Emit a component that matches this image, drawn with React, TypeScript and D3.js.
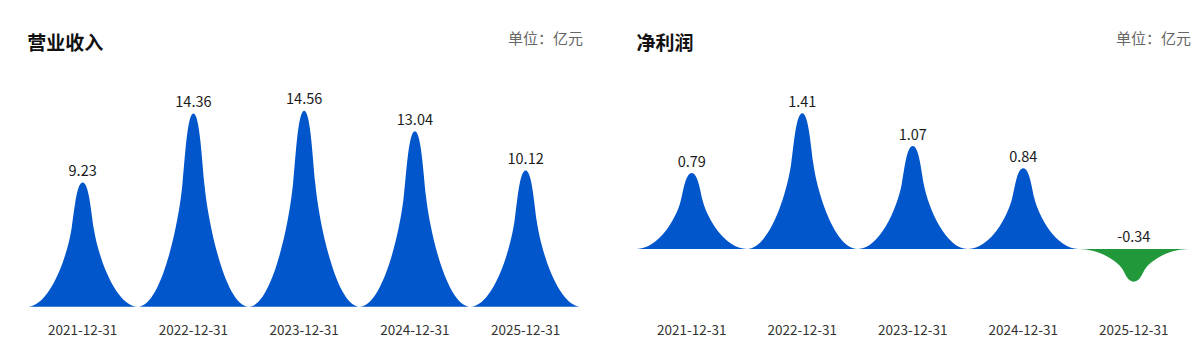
import React from "react";
import * as d3 from "d3";

const dates = ["2021-12-31", "2022-12-31", "2023-12-31", "2024-12-31", "2025-12-31"];
const revenue = [9.23, 14.36, 14.56, 13.04, 10.12];
const netProfit = [0.79, 1.41, 1.07, 0.84, -0.34];

const BLUE = "#0256cc";
const GREEN = "#21993a";
const FONT = "'Noto Sans CJK SC', 'Noto Sans', sans-serif";

// normalized spike symbol (0..10 wide, 0 = tip, 10 = base)
const SYMBOL: [number, number][][] = [
  [[2.0, 10], [3.6, 6.0], [4.0, 3.7]],
  [[4.24, 2.32], [4.45, 0], [5, 0]],
  [[5.55, 0], [5.76, 2.32], [6.0, 3.7]],
  [[6.4, 6.0], [8.0, 10], [10, 10]],
];

function spikePath(x0: number, w: number, yBase: number, yTip: number) {
  const px = (u: number) => x0 + (u / 10) * w;
  const py = (v: number) => yBase + (yTip - yBase) * (10 - v) / 10;
  const p = d3.path();
  p.moveTo(px(0), py(10));
  for (const seg of SYMBOL) {
    p.bezierCurveTo(px(seg[0][0]), py(seg[0][1]), px(seg[1][0]), py(seg[1][1]), px(seg[2][0]), py(seg[2][1]));
  }
  p.closePath();
  return p.toString();
}

type PanelProps = {
  title: string;
  values: number[];
  xRange: [number, number];
  yDomain: [number, number];
  yRange: [number, number];
};

function Panel({ title, values, xRange, yDomain, yRange }: PanelProps) {
  const x = d3.scaleBand<string>().domain(dates).range(xRange).padding(0);
  const y = d3.scaleLinear().domain(yDomain).range(yRange);
  const y0 = y(0);
  return (
    <g>
      <text x={xRange[0]} y={41} fontSize={19} fontWeight={700} fill="#111" dominantBaseline="central" fontFamily={FONT}>
        {title}
      </text>
      <text x={xRange[1] + 2} y={37} fontSize={15} fill="#666" textAnchor="end" dominantBaseline="central" fontFamily={FONT}>
        单位：亿元
      </text>
      {values.map((v, i) => (
        <path key={i} d={spikePath(x(dates[i])!, x.bandwidth(), y0, y(v))} fill={v >= 0 ? BLUE : GREEN} />
      ))}
      {values.map((v, i) => (
        <text
          key={"l" + i}
          x={x(dates[i])! + x.bandwidth() / 2}
          y={y(Math.max(v, 0)) - 13}
          fontSize={14.5}
          fill="#1a1a1a"
          textAnchor="middle"
          dominantBaseline="central"
          fontFamily={FONT}
        >
          {v.toFixed(2)}
        </text>
      ))}
      {dates.map((d) => (
        <text
          key={d}
          x={x(d)! + x.bandwidth() / 2}
          y={yRange[0] + 22}
          fontSize={13.5}
          fill="#333"
          textAnchor="middle"
          dominantBaseline="central"
          fontFamily={FONT}
        >
          {d}
        </text>
      ))}
    </g>
  );
}

export default function App() {
  return (
    <svg width={1200} height={360} style={{ position: "absolute", left: 0, top: 0, background: "#fff" }}>
      <Panel title="营业收入" values={revenue} xRange={[27.3, 581]} yDomain={[0, 16]} yRange={[306.7, 91.3]} />
      <Panel title="净利润" values={netProfit} xRange={[636.5, 1189]} yDomain={[-0.6, 1.6]} yRange={[306.7, 95.1]} />
    </svg>
  );
}
